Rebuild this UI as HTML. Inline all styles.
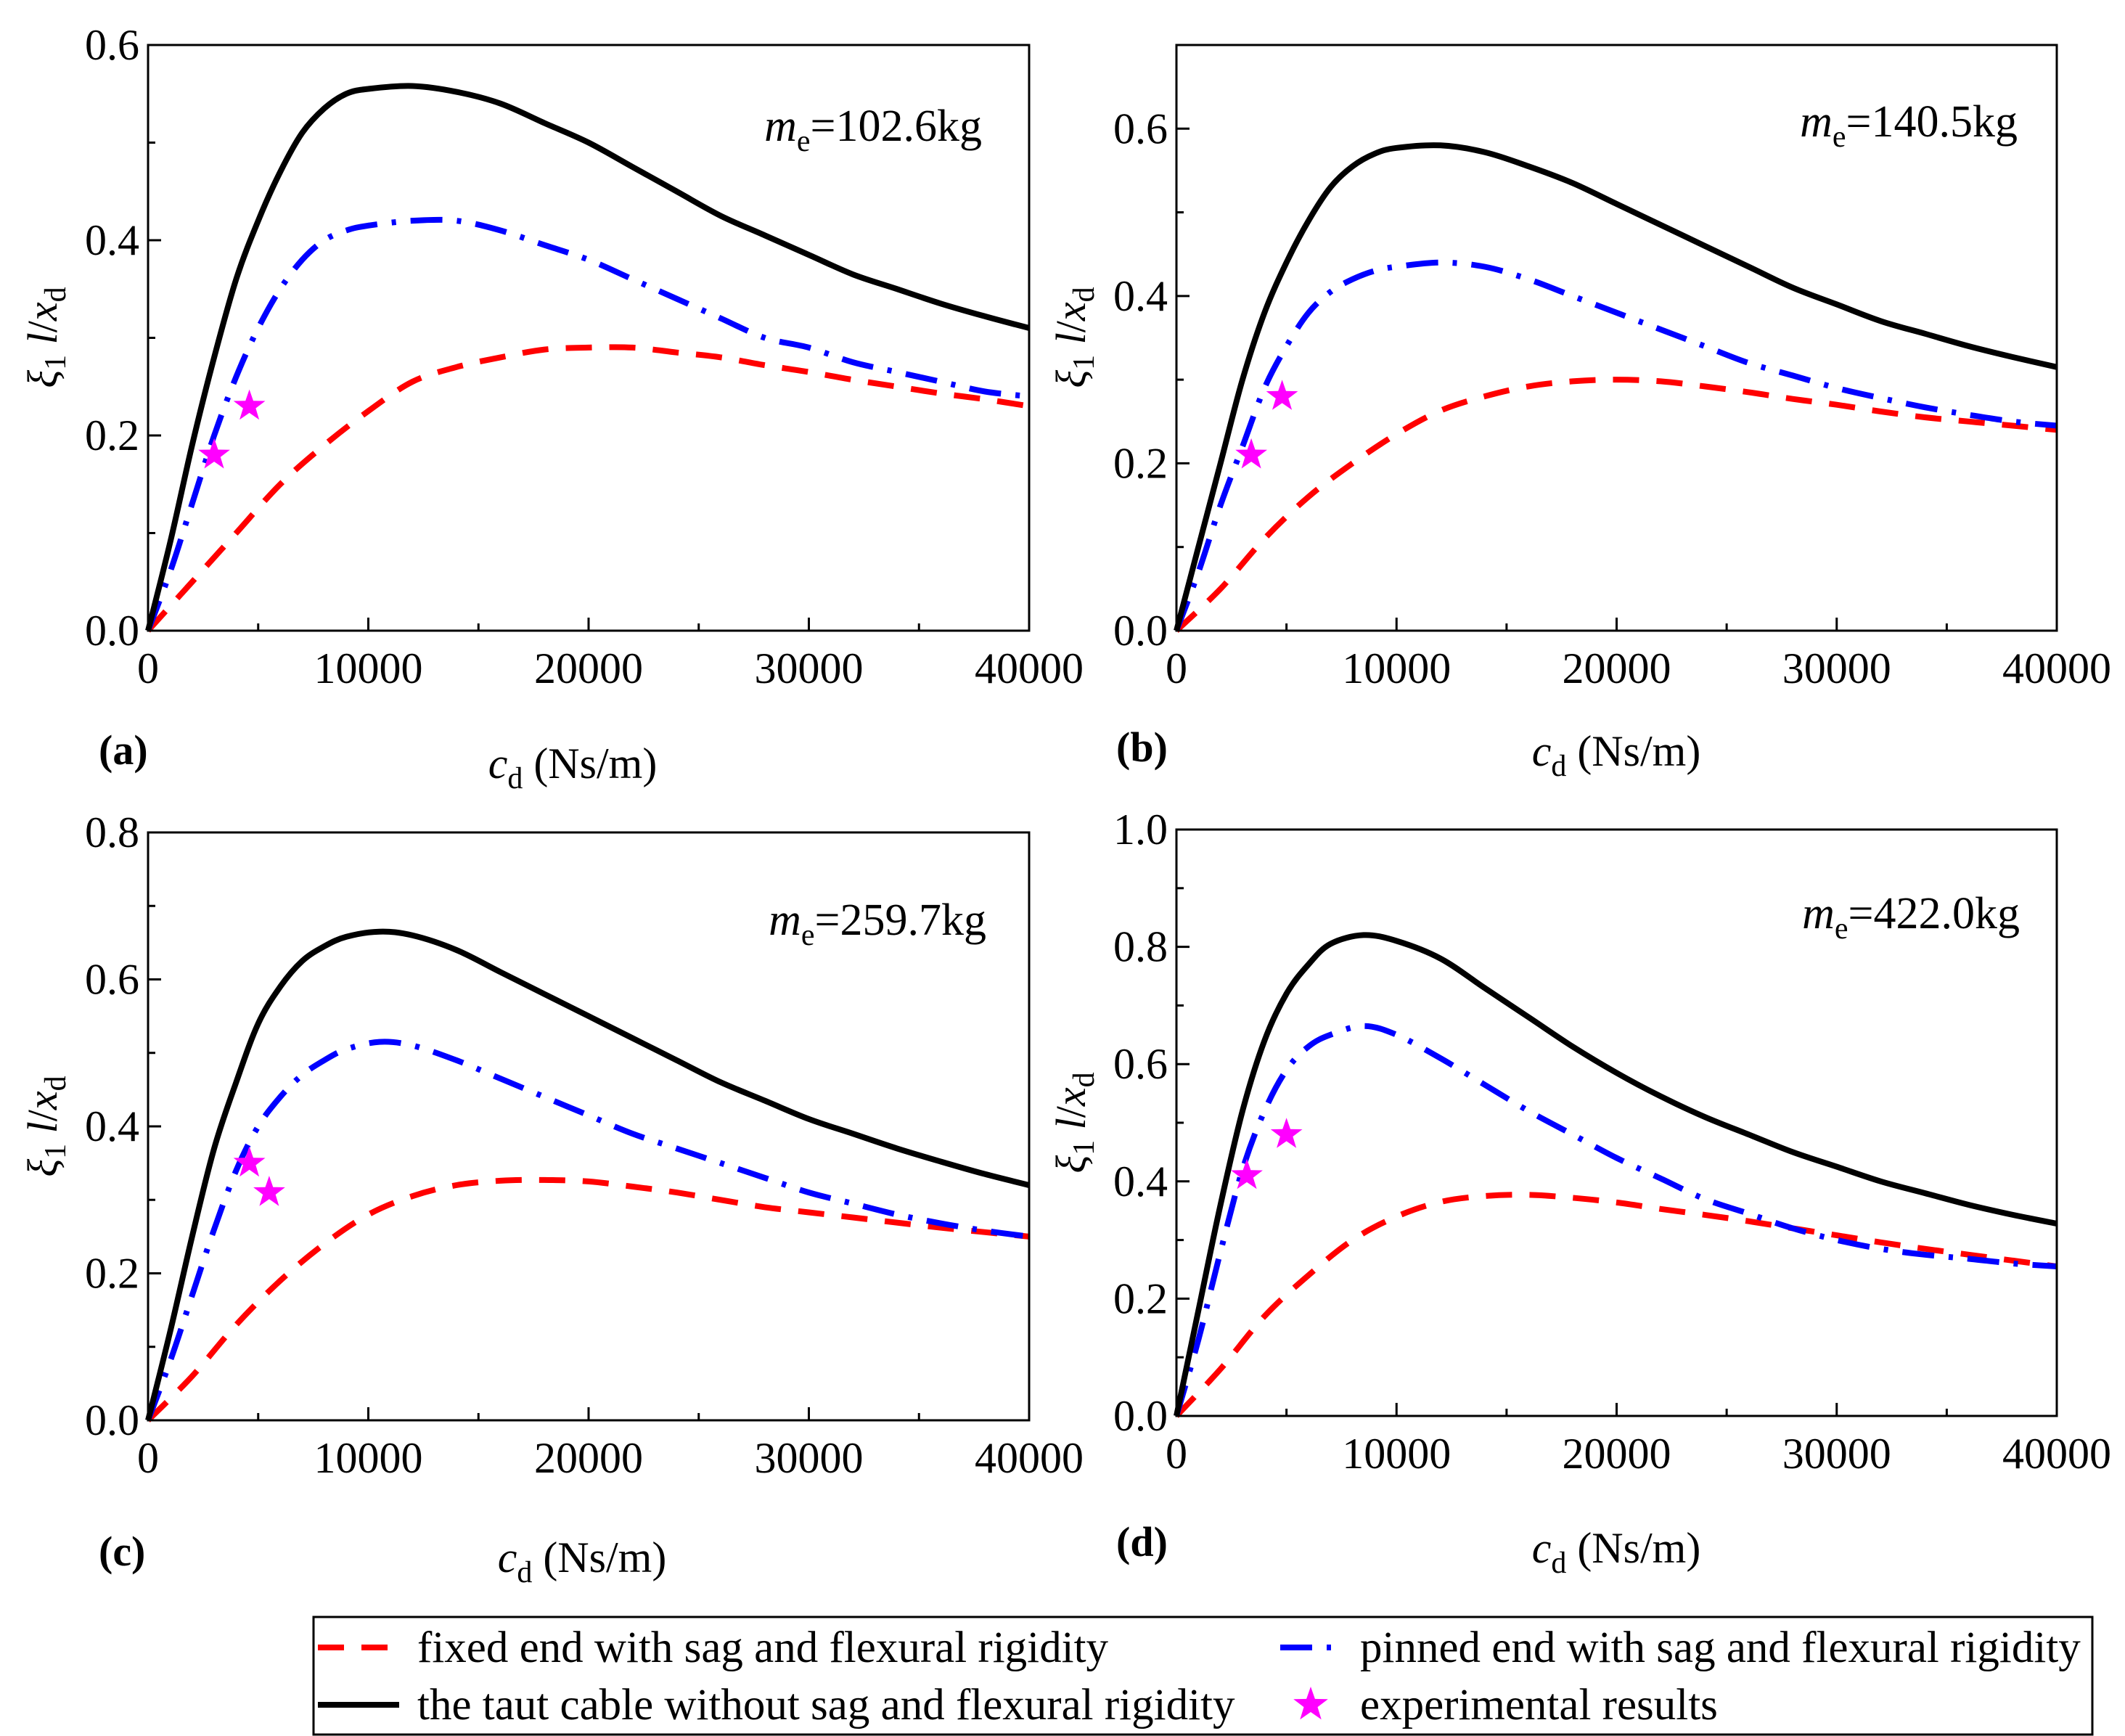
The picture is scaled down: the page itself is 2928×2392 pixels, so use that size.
<!DOCTYPE html>
<html><head><meta charset="utf-8"><style>
html,body{margin:0;padding:0;background:#fff}
svg{display:block}
text{font-family:"Liberation Serif",serif;fill:#000}
</style></head><body>
<svg id="fig" width="2928" height="2392" viewBox="0 0 2928 2392" xmlns="http://www.w3.org/2000/svg"></svg>
<script>
const xTicks=[0,10000,20000,30000,40000];
const xTickLabels=["0","10000","20000","30000","40000"];
// panel a
const aX=[0,1000,2000,3000,4000,5000,6000,7000,8000,9000,10000,12000,14000,16000,18000,20000,22000,24000,26000,28000,30000,32000,34000,36000,38000,40000];
const aBlack=[0,0.09,0.19,0.28,0.36,0.42,0.47,0.51,0.535,0.55,0.555,0.558,0.552,0.54,0.52,0.5,0.475,0.45,0.425,0.405,0.385,0.365,0.35,0.335,0.322,0.31];
const aBlue=[0,0.06,0.13,0.2,0.26,0.31,0.35,0.38,0.4,0.41,0.415,0.42,0.42,0.41,0.395,0.38,0.36,0.34,0.32,0.3,0.29,0.275,0.265,0.255,0.245,0.24];
const redX=[0,2000,4000,6000,8000,10000,12000,14000,16000,18000,20000,22000,24000,26000,28000,30000,32000,34000,36000,38000,40000];
const aRed=[0,0.05,0.1,0.15,0.19,0.225,0.255,0.27,0.28,0.288,0.29,0.29,0.285,0.28,0.272,0.265,0.257,0.25,0.243,0.237,0.23];
const aStarX=[3000,4600];const aStarY=[0.18,0.23];
// panel b
const bX=[0,1000,2000,3000,4000,5000,6000,7000,8000,9000,10000,12000,14000,16000,18000,20000,22000,24000,26000,28000,30000,32000,34000,36000,38000,40000];
const bBlack=[0,0.1,0.2,0.3,0.38,0.44,0.49,0.53,0.555,0.57,0.577,0.58,0.572,0.555,0.535,0.51,0.485,0.46,0.435,0.41,0.39,0.37,0.355,0.34,0.327,0.315];
const bBlue=[0,0.07,0.15,0.22,0.29,0.34,0.38,0.405,0.42,0.43,0.435,0.44,0.435,0.42,0.4,0.38,0.36,0.34,0.32,0.305,0.29,0.278,0.267,0.258,0.25,0.245];
const bRed=[0,0.05,0.11,0.16,0.2,0.235,0.263,0.28,0.292,0.298,0.3,0.298,0.292,0.285,0.277,0.27,0.262,0.255,0.25,0.245,0.24];
const bStarX=[3400,4800];const bStarY=[0.21,0.28];
// panel c
const cX=[0,1000,2000,3000,4000,5000,6000,7000,8000,9000,10500,12000,14000,16000,18000,20000,22000,24000,26000,28000,30000,32000,34000,36000,38000,40000];
const cBlack=[0,0.12,0.25,0.37,0.46,0.54,0.59,0.625,0.645,0.658,0.665,0.66,0.64,0.61,0.58,0.55,0.52,0.49,0.46,0.435,0.41,0.39,0.37,0.352,0.335,0.32];
const cBlue=[0,0.08,0.17,0.26,0.34,0.4,0.44,0.47,0.49,0.505,0.515,0.51,0.49,0.465,0.44,0.415,0.39,0.37,0.35,0.33,0.31,0.295,0.28,0.268,0.258,0.25];
const cRed=[0,0.06,0.13,0.19,0.24,0.28,0.305,0.32,0.326,0.327,0.325,0.318,0.31,0.3,0.29,0.283,0.276,0.269,0.262,0.256,0.25];
const cStarX=[4600,5500];const cStarY=[0.35,0.31];
// panel d
const dX=[0,1000,2000,3000,4000,5000,6000,7000,8500,10000,12000,14000,16000,18000,20000,22000,24000,26000,28000,30000,32000,34000,36000,38000,40000];
const dBlack=[0,0.18,0.36,0.52,0.64,0.72,0.77,0.805,0.82,0.81,0.78,0.73,0.68,0.63,0.585,0.545,0.51,0.48,0.45,0.425,0.4,0.38,0.36,0.343,0.328];
const dBlue=[0,0.13,0.28,0.42,0.52,0.59,0.63,0.65,0.665,0.65,0.61,0.565,0.52,0.48,0.44,0.405,0.37,0.345,0.32,0.3,0.285,0.275,0.268,0.26,0.255];
const dRed=[0,0.08,0.17,0.24,0.3,0.34,0.365,0.375,0.377,0.372,0.364,0.353,0.343,0.332,0.32,0.308,0.296,0.285,0.275,0.265,0.255];
const dStarX=[3200,5000];const dStarY=[0.41,0.48];

const yTicksA=[0,0.2,0.4,0.6];
const yTicksB=[0,0.2,0.4,0.6];
const yTicksC=[0,0.2,0.4,0.6,0.8];
const yTicksD=[0,0.2,0.4,0.6,0.8,1.0];

const NS="http://www.w3.org/2000/svg";
const svg=document.getElementById('fig');
function mk(tag,attrs,parent){const e=document.createElementNS(NS,tag);for(const k in attrs)e.setAttribute(k,attrs[k]);(parent||svg).appendChild(e);return e;}
function starPts(cx,cy,R){const r=R*0.4;let p=[];for(let i=0;i<10;i++){const a=-Math.PI/2+i*Math.PI/5;const rr=i%2?r:R;p.push((cx+rr*Math.cos(a)).toFixed(1)+','+(cy+rr*Math.sin(a)).toFixed(1));}return p.join(' ');}
function smooth(pts){
 let d='M'+pts[0][0].toFixed(1)+','+pts[0][1].toFixed(1);
 for(let i=0;i<pts.length-1;i++){
  const p0=pts[Math.max(0,i-1)],p1=pts[i],p2=pts[i+1],p3=pts[Math.min(pts.length-1,i+2)];
  const c1=[p1[0]+(p2[0]-p0[0])/6,p1[1]+(p2[1]-p0[1])/6];
  const c2=[p2[0]-(p3[0]-p1[0])/6,p2[1]-(p3[1]-p1[1])/6];
  d+='C'+c1[0].toFixed(1)+','+c1[1].toFixed(1)+' '+c2[0].toFixed(1)+','+c2[1].toFixed(1)+' '+p2[0].toFixed(1)+','+p2[1].toFixed(1);
 }
 return d;
}

const panels=[
 {id:'a',L:204,R:1418,T:62,B:869,ymax:0.6,yt:yTicksA,x:aX,bk:aBlack,bl:aBlue,rd:aRed,sx:aStarX,sy:aStarY,me:'102.6kg',meX:1353,meY:194,lab:[136,1053],xl:[789,1072],yl:[78,465]},
 {id:'b',L:1621,R:2834,T:62,B:869,ymax:0.7,yt:yTicksB,x:bX,bk:bBlack,bl:bBlue,rd:bRed,sx:bStarX,sy:bStarY,me:'140.5kg',meX:2780,meY:188,lab:[1538,1049],xl:[2227,1055],yl:[1495,465]},
 {id:'c',L:204,R:1418,T:1147,B:1957,ymax:0.8,yt:yTicksC,x:cX,bk:cBlack,bl:cBlue,rd:cRed,sx:cStarX,sy:cStarY,me:'259.7kg',meX:1359,meY:1288,lab:[136,2157],xl:[802,2166],yl:[78,1552]},
 {id:'d',L:1621,R:2834,T:1143,B:1951,ymax:1.0,yt:yTicksD,x:dX,bk:dBlack,bl:dBlue,rd:dRed,sx:dStarX,sy:dStarY,me:'422.0kg',meX:2783,meY:1279,lab:[1538,2144],xl:[2227,2153],yl:[1495,1547]}
];
panels.forEach(p=>{
 const g=mk('g',{});
 
 
 const sx=v=>p.L+(v/40000)*(p.R-p.L);
 const sy=v=>p.B-(v/p.ymax)*(p.B-p.T);
 const path=(xs,ys)=>smooth(xs.map((x,i)=>[sx(x),sy(ys[i])]));
 for(let v=0;v<=40000;v+=5000){const X=sx(v);const len=v%10000===0?18:10;mk('line',{x1:X,y1:p.B,x2:X,y2:p.B-len,stroke:'#000','stroke-width':3},g);}
 for(let v=0;v<=p.ymax+1e-9;v+=0.1){const Y=sy(v);const maj=Math.abs(Math.round(v*10)%2)===0;mk('line',{x1:p.L,y1:Y,x2:p.L+(maj?18:10),y2:Y,stroke:'#000','stroke-width':3},g);}
 xTicks.forEach((v,i)=>{const t=mk('text',{x:sx(v),y:p.B+72,'font-size':60,'text-anchor':'middle'},g);t.textContent=xTickLabels[i];});
 p.yt.forEach(v=>{const t=mk('text',{x:p.L-12,y:sy(v)+20,'font-size':60,'text-anchor':'end'},g);t.textContent=v.toFixed(1);});
 const r=mk('path',{d:path(redX,p.rd),fill:'none',stroke:'#ff0000','stroke-width':8,'stroke-dasharray':'36 24'},g);
 
 const b=mk('path',{d:path(p.x,p.bl),fill:'none',stroke:'#0000ff','stroke-width':8,'stroke-dasharray':'44 20 6 20'},g);
 
 const k=mk('path',{d:path(p.x,p.bk),fill:'none',stroke:'#000','stroke-width':8},g);
 
 p.sx.forEach((v,i)=>{const s=mk('polygon',{points:starPts(sx(v),sy(p.sy[i]),23),fill:'#ff00ff'},g);});
 const fr=mk('rect',{x:p.L,y:p.T,width:p.R-p.L,height:p.B-p.T,fill:'none',stroke:'#000','stroke-width':3},g);
 
 const m=mk('text',{x:p.meX,y:p.meY,'font-size':62,'text-anchor':'end'},g);
 m.innerHTML='<tspan font-style="italic">m</tspan><tspan font-size="42" dy="14">e</tspan><tspan dy="-14">=</tspan>'+p.me;
 
 const lb=mk('text',{x:p.lab[0],y:p.lab[1],'font-size':58,'font-weight':'bold'},g);
 lb.textContent='('+p.id+')';
 const xl=mk('text',{x:p.xl[0],y:p.xl[1],'font-size':60,'text-anchor':'middle'},g);
 xl.innerHTML='<tspan font-style="italic">c</tspan><tspan font-size="42" dy="14">d</tspan><tspan dy="-14"> (Ns/m)</tspan>';
 
 const yl=mk('text',{x:0,y:0,'font-size':58,'text-anchor':'middle',transform:'translate('+p.yl[0]+','+p.yl[1]+') rotate(-90)'},g);
 yl.innerHTML='<tspan font-style="italic">ξ</tspan><tspan font-size="42" dy="12">1</tspan><tspan dy="-12" font-style="italic"> l</tspan>/<tspan font-style="italic">x</tspan><tspan font-size="42" dy="12">d</tspan>';
 
});
const lg=mk('g',{});


mk('rect',{x:432,y:2228,width:2451,height:162,fill:'#fff',stroke:'#000','stroke-width':3},lg);
const e1=mk('line',{x1:438,y1:2270,x2:550,y2:2270,stroke:'#ff0000','stroke-width':8,'stroke-dasharray':'36 24'},lg);

const t1=mk('text',{x:575,y:2290,'font-size':61},lg);t1.textContent='fixed end with sag and flexural rigidity';

const e2=mk('line',{x1:438,y1:2349,x2:550,y2:2349,stroke:'#000','stroke-width':8},lg);

const t2=mk('text',{x:575,y:2369,'font-size':61},lg);t2.textContent='the taut cable without sag and flexural rigidity';

const e3=mk('line',{x1:1764,y1:2270,x2:1850,y2:2270,stroke:'#0000ff','stroke-width':8,'stroke-dasharray':'44 20 6 20'},lg);

const t3=mk('text',{x:1874,y:2290,'font-size':61},lg);t3.textContent='pinned end with sag and flexural rigidity';

const e4=mk('polygon',{points:starPts(1806,2349,25),fill:'#ff00ff'},lg);

const t4=mk('text',{x:1874,y:2369,'font-size':61},lg);t4.textContent='experimental results';

</script>
</body></html>
